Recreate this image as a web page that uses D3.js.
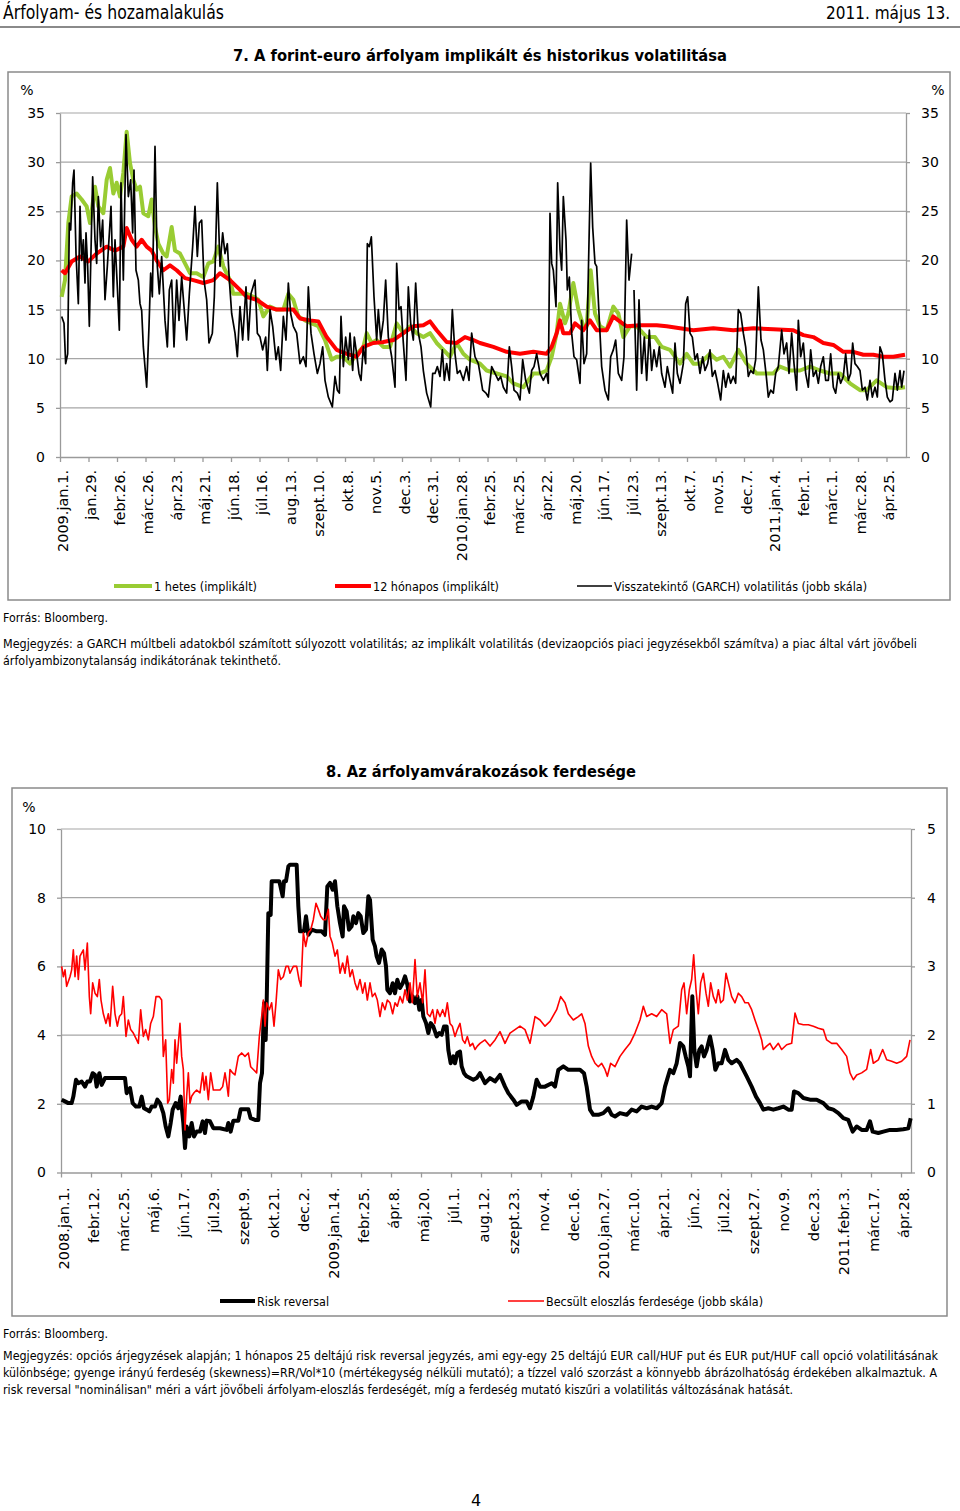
<!DOCTYPE html>
<html>
<head>
<meta charset="utf-8">
<script src="https://cdnjs.cloudflare.com/ajax/libs/d3/7.8.5/d3.min.js"></script>
<style>
  body { margin: 0; background: #fff; }
  svg text { font-family: "DejaVu Sans", sans-serif; fill: #000; }
  svg text.narrow { font-family: "DejaVu Sans Condensed", "Liberation Sans Narrow", "Roboto", sans-serif; }
</style>
</head>
<body>
<svg id="page" width="960" height="1511"></svg>
<script>

// ---- 7. abra: volatilitas ----
// t: ido-index (kb. 1/4 kereskedesi nap), v: %
var volLabels = ["2009.jan.1.","jan.29.","febr.26.","márc.26.","ápr.23.","máj.21.","jún.18.","júl.16.","aug.13.","szept.10.",
  "okt.8.","nov.5.","dec.3.","dec.31.","2010.jan.28.","febr.25.","márc.25.","ápr.22.","máj.20.","jún.17.",
  "júl.23.","szept.13.","okt.7.","nov.5.","dec.7.","2011.jan.4.","febr.1.","márc.1.","márc.28.","ápr.25."];
var volTicksY = [0,5,10,15,20,25,30,35];

var hetes = [[185,16.3],[195,18],[205,23.8],[215,26.5],[230,26.8],[245,26.2],[260,25.5],[270,23.8],[285,27.5],[295,25.5],
  [310,24.8],[320,28.2],[330,29.4],[340,26.8],[350,27.9],[360,26.5],[370,28.9],[380,33.1],[390,29.9],[400,28.2],
  [410,27.2],[420,27.5],[430,24.8],[445,24.5],[455,26.2],[465,23.4],[475,21.7],[490,20.7],[500,20.4],[515,23.4],
  [525,21],[540,20.7],[555,19.7],[570,18.7],[590,18.7],[610,18.3],[625,19.7],[640,19.9],[655,21.4],[670,19.4],
  [690,18],[700,16.6],[720,16.6],[740,16.6],[760,16.3],[775,16],[790,14.3],[810,15.3],[830,15],[850,15],
  [865,16.6],[880,16],[895,14.3],[915,13.9],[935,13.6],[955,13.3],[975,11.9],[995,9.9],[1010,10.2],[1030,10.2],
  [1050,9.5],[1070,10.5],[1090,11.2],[1100,12.6],[1115,11.6],[1130,11.9],[1150,11.2],[1170,11.2],[1190,13.6],[1210,12.6],
  [1230,13.3],[1250,12.6],[1270,12.2],[1290,12.6],[1310,11.6],[1330,10.9],[1350,10.2],[1370,11.6],[1390,10.5],[1410,9.9],
  [1440,9.5],[1460,8.8],[1490,8.5],[1520,8.2],[1540,7.5],[1570,7.1],[1600,8.5],[1620,8.5],[1640,8.8],[1655,10.2],
  [1670,12.6],[1680,15.6],[1695,13.6],[1705,14.6],[1720,17.7],[1735,15],[1750,13.3],[1760,13.3],[1772,19],[1785,14.6],
  [1800,13.3],[1820,12.9],[1840,15.3],[1855,14.6],[1870,12.2],[1890,13.3],[1910,13.3],[1940,12.2],[1965,12.2],[1985,11.2],
  [2010,10.9],[2040,9.5],[2060,10.5],[2080,9.5],[2100,9.5],[2130,10.5],[2150,9.9],[2170,10.2],[2190,9.2],[2215,10.9],
  [2240,9.5],[2270,8.5],[2300,8.5],[2320,8.5],[2340,9.2],[2370,8.8],[2400,8.8],[2430,9.2],[2460,8.8],[2490,8.5],
  [2520,8.5],[2550,7.5],[2580,6.8],[2600,6.8],[2630,7.8],[2660,7.1],[2690,7],[2715,7.1]];

var honapos12 = [[185,19],[195,18.7],[215,19.9],[240,20.4],[265,19.9],[290,20.7],[320,21.4],[345,21],[370,21.4],[380,23.3],
  [395,22.1],[410,21.4],[425,22.1],[440,21.4],[455,21],[470,20],[490,19],[510,19.5],[530,19],[555,18.2],
  [580,18],[610,17.7],[640,18],[660,18.7],[690,18],[720,17],[740,16.3],[770,16],[800,15.3],[830,15],
  [855,15],[880,15],[900,14.1],[930,13.9],[955,13.8],[980,12.2],[1010,10.9],[1040,10.5],[1070,10.2],[1090,11.2],
  [1120,11.6],[1150,11.7],[1180,11.9],[1210,12.6],[1240,13.3],[1270,13.4],[1290,13.8],[1310,12.9],[1340,11.7],[1370,11.6],
  [1395,12.2],[1420,11.9],[1440,11.6],[1480,11.2],[1520,10.7],[1560,10.5],[1600,10.7],[1640,10.5],[1655,11.2],[1670,12.6],
  [1680,13.9],[1690,12.6],[1710,12.6],[1725,13.6],[1750,12.9],[1770,13.9],[1790,12.9],[1820,12.9],[1840,14.3],[1855,13.9],
  [1880,13.3],[1920,13.4],[1970,13.4],[2000,13.3],[2040,13.1],[2080,12.9],[2140,13.1],[2200,12.9],[2260,13.1],[2320,13],
  [2380,12.9],[2410,12.4],[2440,12.2],[2470,11.6],[2500,11.4],[2530,10.7],[2560,10.7],[2590,10.4],[2620,10.4],[2650,10.2],
  [2680,10.2],[2715,10.4]];

var garch = [[185,14.3],[192,13.6],[197,9.5],[203,10.5],[208,23.8],[212,23.1],[218,27.9],[222,29.2],[228,20.7],[235,15.6],
  [240,25.5],[245,20],[250,22.1],[255,17.7],[258,22.8],[263,19.4],[268,13.3],[278,28.5],[285,22.1],[290,19.7],
  [295,26.5],[302,21.4],[308,24.1],[315,16],[322,19.4],[333,25.5],[340,16.3],[345,22.1],[352,17.3],[358,12.9],
  [363,27.9],[370,18],[378,32.8],[385,26.5],[392,28.2],[398,22.8],[402,29.2],[408,19],[415,18],[420,15.6],
  [425,14.9],[430,11.2],[440,7.1],[447,13.3],[452,18.7],[457,16.3],[465,31.6],[472,19.4],[478,16.6],[485,20.4],
  [495,13.9],[502,11.2],[508,17],[515,18],[522,11.2],[530,18],[537,13.9],[545,18.3],[552,15.3],[560,11.9],
  [568,16.6],[578,21.4],[585,25.5],[592,20.4],[598,23.8],[605,24.1],[612,18],[620,16],[627,11.6],[637,12.6],
  [643,16.3],[652,27.9],[660,19.4],[668,22.8],[675,20.7],[682,21.7],[688,18],[695,14.6],[705,12.6],[712,10.2],
  [720,15.3],[728,11.9],[738,17.3],[745,11.9],[753,16.6],[765,18],[772,12.6],[780,12.2],[788,10.9],[797,12.2],
  [802,8.8],[810,15],[818,13.3],[828,9.9],[835,11.2],[842,8.8],[850,14.3],[858,11.9],[865,17.7],[872,14.6],
  [880,13.3],[890,12.6],[900,9.5],[910,10.2],[918,9.2],[925,17.3],[933,12.6],[942,10.5],[952,8.5],[960,9.5],
  [968,11.2],[975,7.8],[985,6.1],[997,5.1],[1005,8.2],[1012,6.8],[1018,6.5],[1023,14.3],[1030,9.2],[1037,12.2],
  [1045,9.9],[1050,12.6],[1058,8.8],[1063,12.2],[1070,10.5],[1077,8.5],[1083,7.8],[1090,11.2],[1097,9.5],[1102,21.7],
  [1108,21.4],[1114,22.4],[1122,16.3],[1130,11.9],[1135,15],[1142,11.9],[1150,13.9],[1157,18],[1165,12.2],[1175,10.2],
  [1185,7.1],[1190,19.7],[1197,15],[1203,15.3],[1210,11.6],[1218,7.8],[1225,17.3],[1232,13.6],[1240,11.9],[1247,17.7],
  [1255,12.6],[1263,11.2],[1270,8.8],[1280,6.5],[1292,5.1],[1298,8.5],[1305,8.5],[1312,9.2],[1320,8.2],[1327,10.9],
  [1333,7.8],[1340,9.5],[1348,7.8],[1357,15],[1365,10.5],[1372,8.5],[1380,8.8],[1390,7.8],[1400,9.2],[1407,7.8],
  [1415,12.6],[1425,10.2],[1435,9.5],[1440,8.5],[1448,6.8],[1458,6.5],[1465,6.1],[1475,9.2],[1485,8.5],[1495,7.8],
  [1502,8.2],[1510,7.1],[1520,6.5],[1528,11.2],[1535,9.2],[1542,6.8],[1552,6.5],[1560,5.8],[1568,9.9],[1577,7.8],
  [1588,6.5],[1595,8.8],[1602,9.2],[1610,10.5],[1620,8.5],[1630,7.8],[1640,8.5],[1645,7.5],[1650,24.8],[1655,19.7],
  [1660,19],[1668,15.3],[1673,27.9],[1680,21.1],[1685,19],[1690,26.5],[1698,22.1],[1702,17],[1708,18.3],[1715,12.6],
  [1722,10.2],[1730,9.9],[1740,7.5],[1745,13.9],[1752,9.5],[1760,10.5],[1765,18.7],[1772,29.9],[1778,23.4],[1785,19.7],
  [1790,19.4],[1798,13.9],[1805,9.2],[1815,6.8],[1825,5.8],[1832,10.2],[1840,10.9],[1847,11.9],[1855,8.5],[1865,7.8],
  [1872,10.2],[1880,24.1],[1887,18],[1895,20.7],[1898,null],[1902,17],[1910,6.8],[1917,16],[1925,8.5],[1933,12.2],
  [1940,7.8],[1948,12.9],[1955,8.8],[1962,10.9],[1970,9.2],[1978,11.2],[1985,8.5],[1995,7.1],[2002,9.2],[2010,7.8],
  [2018,6.5],[2025,11.6],[2032,8.5],[2040,7.5],[2050,9.5],[2057,15.6],[2063,16.3],[2070,12.6],[2077,12.2],[2085,9.9],
  [2092,10.5],[2100,8.5],[2108,10.2],[2115,8.8],[2123,9.5],[2130,10.9],[2137,8.2],[2145,8.8],[2153,7.5],[2162,5.8],
  [2170,8.8],[2177,7.1],[2185,8.5],[2192,7.5],[2200,8.2],[2207,7.5],[2215,15],[2222,14.6],[2230,12.6],[2237,11.2],
  [2245,8.2],[2252,8.8],[2260,8.5],[2267,9.9],[2275,17.3],[2283,11.9],[2290,10.9],[2298,8.5],[2305,6.1],[2312,6.8],
  [2320,6.5],[2327,8.5],[2335,9.2],[2345,12.9],[2352,10.5],[2360,11.6],[2367,8.5],[2375,12.6],[2382,9.5],[2390,6.8],
  [2395,13.9],[2402,10.2],[2410,11.6],[2417,8.5],[2425,7.1],[2432,10.9],[2440,8.2],[2448,8.8],[2455,7.5],[2462,9.2],
  [2470,10.2],[2477,7.8],[2485,7.8],[2492,10.5],[2500,7.1],[2507,6.5],[2515,8.5],[2522,7.5],[2530,8.2],[2537,10.5],
  [2545,7.8],[2552,8.5],[2558,11.6],[2565,9.5],[2572,9.2],[2580,8.8],[2587,6.8],[2595,7.1],[2602,5.8],[2610,7.8],
  [2617,6.1],[2625,7.1],[2632,6.1],[2640,11.2],[2647,10.5],[2655,7.8],[2662,6.1],[2670,5.6],[2677,5.8],[2685,8.5],
  [2692,6.8],[2700,8.8],[2705,7.1],[2712,8.8]];

// ---- 8. abra: ferdeseg ----
var skewLabels = ["2008.jan.1.","febr.12.","márc.25.","máj.6.","jún.17.","júl.29.","szept.9.","okt.21.","dec.2.","2009.jan.14.",
  "febr.25.","ápr.8.","máj.20.","júl.1.","aug.12.","szept.23.","nov.4.","dec.16.","2010.jan.27.","márc.10.",
  "ápr.21.","jún.2.","júl.22.","szept.27.","nov.9.","dec.23.","2011.febr.3.","márc.17.","ápr.28."];
var skewTicksL = [0,2,4,6,8,10];
var skewTicksR = [0,1,2,3,4,5];

var riskReversal = [[185,2.12],[195,2.07],[205,2.02],[215,2.02],[220,2.21],[228,2.7],[235,2.6],[245,2.65],[255,2.5],[262,2.65],
  [270,2.65],[278,2.89],[285,2.84],[290,2.5],[298,2.89],[305,2.55],[315,2.75],[330,2.75],[350,2.75],[375,2.75],
  [380,2.31],[390,2.46],[398,2.02],[408,1.92],[418,1.92],[425,2.21],[432,1.87],[440,1.83],[448,1.78],[455,1.92],
  [465,1.92],[472,2.12],[480,2.02],[490,1.73],[497,1.34],[505,1.05],[512,1.44],[518,1.83],[527,2.02],[535,1.87],
  [542,2.21],[550,1.44],[555,0.71],[560,1.34],[568,1.05],[575,1.44],[582,1.05],[590,1.19],[600,1.19],[608,1.49],
  [615,1.15],[620,1.51],[630,1.49],[640,1.29],[660,1.29],[680,1.24],[685,1.44],[692,1.19],[700,1.51],[715,1.51],
  [722,1.84],[745,1.84],[752,1.58],[765,1.53],[775,1.53],[780,2.6],[786,2.89],[792,4.93],[797,3.86],[800,4.93],
  [805,7.55],[812,7.5],[815,8.48],[838,8.48],[848,8.04],[852,8.48],[858,8.48],[865,8.91],[870,8.96],[890,8.96],
  [895,7.75],[900,7.02],[912,7.02],[918,7.46],[925,6.92],[935,7.07],[950,7.02],[965,7.02],[975,6.92],[982,8.33],
  [990,8.43],[998,8.23],[1005,8.48],[1012,7.75],[1020,7.26],[1028,6.87],[1032,7.75],[1040,7.6],[1047,7.07],[1055,7.17],
  [1060,7.46],[1068,7.26],[1075,7.55],[1082,7.46],[1090,6.97],[1098,7.07],[1105,8.04],[1110,7.94],[1118,6.78],[1125,6.58],
  [1130,6.29],[1137,6.1],[1145,6.49],[1152,6.39],[1158,6],[1162,5.32],[1170,5.22],[1178,5.51],[1185,5.22],[1192,5.61],
  [1200,5.37],[1208,5.51],[1215,5.71],[1222,5.47],[1230,4.98],[1238,5.13],[1245,4.93],[1252,5.13],[1258,4.74],[1265,5.03],
  [1270,4.54],[1278,4.35],[1285,4.06],[1292,4.35],[1300,4.25],[1310,3.96],[1318,4.06],[1325,4.01],[1332,4.25],[1340,4.25],
  [1345,3.57],[1352,3.18],[1360,3.38],[1365,3.18],[1372,3.48],[1380,3.52],[1385,3.09],[1392,2.89],[1400,2.8],[1410,2.75],
  [1420,2.7],[1430,2.75],[1440,2.89],[1455,2.6],[1470,2.75],[1485,2.65],[1500,2.84],[1515,2.5],[1525,2.31],[1540,2.12],
  [1550,1.97],[1565,2.07],[1580,2.07],[1590,1.87],[1600,2.21],[1610,2.7],[1620,2.5],[1635,2.5],[1655,2.6],[1665,2.5],
  [1675,2.99],[1690,3.09],[1705,2.99],[1720,2.99],[1740,2.99],[1752,2.89],[1760,2.5],[1770,1.83],[1780,1.68],[1795,1.68],
  [1810,1.73],[1825,1.87],[1835,1.68],[1845,1.63],[1860,1.73],[1880,1.68],[1895,1.83],[1910,1.78],[1925,1.92],[1940,1.87],
  [1955,1.92],[1970,1.87],[1985,2.02],[1995,2.5],[2010,2.99],[2020,2.89],[2030,3.18],[2040,3.77],[2050,3.67],[2057,3.38],
  [2065,3.09],[2070,2.8],[2077,5.13],[2083,3.57],[2090,3.09],[2098,3.57],[2105,3.67],[2112,3.38],[2120,3.57],[2130,3.96],
  [2138,3.57],[2146,2.99],[2155,3.18],[2165,3.18],[2175,3.57],[2185,3.28],[2195,3.18],[2210,3.28],[2220,3.18],[2230,2.99],
  [2240,2.8],[2255,2.5],[2268,2.21],[2280,2.02],[2290,1.83],[2305,1.87],[2320,1.83],[2335,1.87],[2350,1.92],[2365,1.83],
  [2375,1.83],[2382,2.36],[2395,2.31],[2410,2.17],[2430,2.12],[2450,2.12],[2470,2.02],[2485,1.87],[2500,1.83],[2515,1.73],
  [2530,1.58],[2545,1.53],[2558,1.19],[2570,1.34],[2585,1.24],[2600,1.24],[2610,1.49],[2618,1.19],[2635,1.15],[2650,1.19],
  [2670,1.24],[2690,1.24],[2710,1.26],[2725,1.29],[2732,1.58]];

var ferdeseg = [[185,3],[190,2.85],[195,2.95],[200,2.71],[210,2.85],[215,2.95],[220,3.24],[225,2.85],[230,3.15],[235,2.81],
  [240,3.15],[250,3.24],[255,2.95],[262,3.34],[268,2.56],[272,2.31],[278,2.76],[285,2.61],[292,2.56],[298,2.81],
  [303,2.51],[310,2.31],[318,2.17],[325,2.31],[330,2.13],[338,2.71],[345,2.31],[352,2.13],[358,2.27],[365,2.31],
  [370,2.56],[378,1.98],[385,2.22],[392,2.08],[400,2.03],[410,1.93],[415,1.88],[422,2.37],[430,1.98],[437,2.08],
  [445,1.93],[452,2.17],[460,2.27],[468,2.56],[478,2.56],[485,2.51],[490,1.69],[497,1.93],[503,1.01],[508,1.06],
  [515,1.5],[520,1.3],[525,1.93],[530,1.59],[535,1.88],[540,2.17],[545,1.69],[550,1.5],[555,0.62],[560,1.11],
  [565,1.45],[570,1.01],[575,1.11],[582,1.16],[590,1.2],[600,1.16],[608,1.45],[613,1.2],[618,1.4],[625,1.06],
  [632,1.45],[640,1.2],[650,1.2],[660,1.2],[668,1.25],[675,1.45],[680,1.3],[685,1.11],[690,1.5],[698,1.45],
  [705,1.42],[715,1.69],[725,1.74],[735,1.69],[745,1.74],[752,1.54],[760,1.5],[770,1.45],[778,1.98],[785,2.27],
  [790,2.51],[795,2.13],[800,2.47],[808,2.37],[815,2.47],[822,2.13],[828,2.47],[835,2.95],[842,2.81],[850,2.85],
  [858,3],[865,3],[870,2.9],[880,3],[890,3],[897,2.81],[903,2.71],[910,3.49],[917,3.29],[925,3.49],
  [932,3.53],[940,3.68],[948,3.92],[955,3.83],[962,3.73],[970,3.68],[977,3.68],[985,3.83],[990,3.44],[997,3.34],
  [1005,3.15],[1012,3.24],[1020,2.9],[1028,3.05],[1035,2.9],[1042,3.15],[1050,2.85],[1057,2.95],[1065,2.76],[1072,2.66],
  [1080,2.81],[1088,2.61],[1095,2.76],[1102,2.51],[1110,2.76],[1117,2.56],[1125,2.61],[1132,2.51],[1140,2.27],[1147,2.47],
  [1155,2.37],[1162,2.51],[1170,2.47],[1178,2.31],[1185,2.47],[1192,2.42],[1200,2.56],[1208,2.47],[1215,2.66],[1222,2.51],
  [1230,2.76],[1237,2.47],[1245,3.1],[1252,2.56],[1260,2.76],[1268,2.47],[1275,2.95],[1282,2.31],[1290,2.27],[1298,2.37],
  [1305,2.17],[1312,2.37],[1320,2.27],[1328,2.37],[1335,2.27],[1342,2.47],[1350,2.17],[1357,2.13],[1365,1.98],[1372,2.08],
  [1380,2.17],[1388,1.93],[1395,1.88],[1402,1.98],[1410,1.84],[1418,1.88],[1425,1.79],[1432,1.84],[1440,1.88],[1455,1.93],
  [1470,1.84],[1485,1.93],[1500,2.05],[1515,1.88],[1530,2.03],[1545,2.08],[1560,2.13],[1575,2.08],[1590,1.88],[1605,2.27],
  [1620,2.22],[1635,2.13],[1650,2.2],[1670,2.37],[1682,2.56],[1695,2.47],[1705,2.31],[1720,2.22],[1735,2.27],[1745,2.31],
  [1755,2.17],[1765,1.84],[1775,1.69],[1785,1.59],[1795,1.54],[1805,1.59],[1815,1.5],[1822,1.4],[1832,1.59],[1845,1.54],
  [1860,1.69],[1875,1.79],[1890,1.88],[1905,2.03],[1920,2.22],[1930,2.42],[1940,2.27],[1955,2.31],[1970,2.27],[1985,2.37],
  [2000,2.31],[2010,1.88],[2020,2.08],[2035,2.13],[2045,2.66],[2052,2.76],[2060,2.31],[2068,2.66],[2075,2.81],[2081,3.17],
  [2088,2.66],[2095,2.31],[2102,2.76],[2110,2.9],[2118,2.61],[2125,2.42],[2132,2.76],[2140,2.56],[2148,2.47],[2155,2.66],
  [2162,2.47],[2170,2.51],[2178,2.9],[2185,2.76],[2195,2.56],[2205,2.47],[2215,2.61],[2225,2.56],[2235,2.47],[2245,2.47],
  [2255,2.37],[2265,2.22],[2275,2.08],[2285,1.93],[2290,1.79],[2300,1.84],[2310,1.88],[2320,1.79],[2335,1.88],[2345,1.79],
  [2360,1.86],[2375,1.88],[2385,2.32],[2395,2.17],[2410,2.15],[2425,2.15],[2440,2.13],[2455,2.1],[2470,2.08],[2480,1.93],
  [2495,1.88],[2510,1.88],[2525,1.79],[2540,1.69],[2550,1.45],[2560,1.35],[2570,1.42],[2585,1.45],[2600,1.5],[2612,1.79],
  [2620,1.59],[2635,1.64],[2648,1.79],[2660,1.64],[2675,1.62],[2690,1.59],[2705,1.62],[2720,1.69],[2730,1.93]];


var svg = d3.select("#page");

function addText(x, y, str, size, len, cls, weight){
  var t = svg.append("text")
    .attr("x", x).attr("y", y)
    .attr("font-size", size)
    .text(str);
  if (cls) t.attr("class", cls);
  if (weight) t.attr("font-weight", weight);
  if (len) t.attr("textLength", len).attr("lengthAdjust", "spacingAndGlyphs");
  return t;
}

function Chart(cfg){

  var self = this;
  this.cfg = cfg;
  this.g;
  this.x;
  this.yL;
  this.yR;

  this.init = function init(){
    var c = self.cfg;
    self.g = svg.append("g");

    self.g.append("rect")
      .attr("x", c.box[0]).attr("y", c.box[1])
      .attr("width", c.box[2] - c.box[0]).attr("height", c.box[3] - c.box[1])
      .attr("fill", "none").attr("stroke", "#8a8a8a").attr("stroke-width", 1.5);

    self.x = d3.scaleLinear().domain(c.tDomain).range([c.left, c.right]);
    self.yL = d3.scaleLinear().domain([0, d3.max(c.ticksL)]).range([c.bottom, c.top]);
    self.yR = d3.scaleLinear().domain([0, d3.max(c.ticksR)]).range([c.bottom, c.top]);

    // racsvonalak
    self.g.append("g").selectAll("line")
      .data(c.ticksL.filter(function(d){ return d > 0; }))
      .enter().append("line")
      .attr("x1", c.left).attr("x2", c.right)
      .attr("y1", function(d){ return self.yL(d); })
      .attr("y2", function(d){ return self.yL(d); })
      .attr("stroke", "#a6a6a6").attr("stroke-width", 1.2);

    var ax = self.g.append("g")
      .attr("transform", "translate(" + c.left + ",0)")
      .call(d3.axisLeft(self.yL).tickValues(c.ticksL).tickSize(4).tickSizeOuter(0).tickPadding(11)
        .tickFormat(d3.format("d")));
    var axR = self.g.append("g")
      .attr("transform", "translate(" + c.right + ",0)")
      .call(d3.axisRight(self.yR).tickValues(c.ticksR).tickSize(4).tickSizeOuter(0).tickPadding(c.padR)
        .tickFormat(d3.format("d")));

    var tickTs = c.labels.map(function(d, i){ return c.tDomain[0] + c.tStep * i; });
    var axB = self.g.append("g")
      .attr("transform", "translate(0," + c.bottom + ")")
      .call(d3.axisBottom(self.x).tickValues(tickTs).tickSize(5).tickSizeOuter(0)
        .tickFormat(function(d, i){ return c.labels[i]; }));
    axB.selectAll("text")
      .attr("transform", "rotate(-90)")
      .attr("text-anchor", "end")
      .attr("x", -c.labelGap).attr("y", 2).attr("dy", "0.35em")
      .attr("font-size", 14.5);

    [ax, axR, axB].forEach(function(a){
      a.attr("font-family", null).attr("font-size", null);
      a.selectAll("path, line").attr("stroke", "#9a9a9a").attr("stroke-width", 1.3);
      a.selectAll("text").attr("fill", "#000");
    });
    ax.selectAll("text").attr("font-size", 14);
    axR.selectAll("text").attr("font-size", 14);
  };

  this.addLine = function addLine(data, right, color, width){
    var y = right ? self.yR : self.yL;
    var line = d3.line()
      .defined(function(d){ return d[1] != null; })
      .x(function(d){ return self.x(d[0]); })
      .y(function(d){ return y(d[1]); });
    self.g.append("path")
      .datum(data)
      .attr("d", line)
      .attr("fill", "none")
      .attr("stroke", color)
      .attr("stroke-width", width)
      .attr("stroke-linejoin", "round");
  };

  this.legend = function legend(items, y){
    items.forEach(function(it){
      self.g.append("line")
        .attr("x1", it.x1).attr("x2", it.x2).attr("y1", y).attr("y2", y)
        .attr("stroke", it.color).attr("stroke-width", it.w);
      self.g.append("text")
        .attr("class", "narrow")
        .attr("x", it.x2 + 2).attr("y", y + 4.5)
        .attr("font-size", 13)
        .attr("textLength", it.len).attr("lengthAdjust", "spacingAndGlyphs")
        .text(it.text);
    });
  };
}

// fejlec
addText(3, 19, "Árfolyam- és hozamalakulás", 19.5, 221, "narrow");
addText(950, 19, "2011. május 13.", 17, null, "narrow").attr("text-anchor", "end");
svg.append("line").attr("x1", 0).attr("x2", 960).attr("y1", 27).attr("y2", 27)
  .attr("stroke", "#8a8a8a").attr("stroke-width", 2);

// 7. abra
addText(233, 61, "7. A forint-euro árfolyam implikált és historikus volatilitása", 16, 494, null, "bold");

var vol = new Chart({
  box: [8, 72, 950, 600],
  left: 60, right: 906, top: 113, bottom: 457,
  tDomain: [180, 2718], tStep: 85.5,
  ticksL: volTicksY, ticksR: volTicksY, padR: 11,
  labels: volLabels, labelGap: 13
});
vol.init();
vol.addLine(hetes, false, "#99cc33", 4);
vol.addLine(honapos12, false, "#ff0000", 4);
vol.addLine(garch, true, "#000", 1.7);
addText(27, 95, "%", 14).attr("text-anchor", "middle");
addText(938, 95, "%", 14).attr("text-anchor", "middle");
vol.legend([
  {x1: 114, x2: 152, color: "#99cc33", w: 4, text: "1 hetes (implikált)", len: 103},
  {x1: 335, x2: 371, color: "#ff0000", w: 4, text: "12 hónapos (implikált)", len: 126},
  {x1: 577, x2: 612, color: "#000", w: 1.6, text: "Visszatekintő (GARCH) volatilitás (jobb skála)", len: 253}
], 586);

addText(3, 621.5, "Forrás: Bloomberg.", 13, 105, "narrow");
addText(3, 647.5, "Megjegyzés: a GARCH múltbeli adatokból számított súlyozott volatilitás; az implikált volatilitás (devizaopciós piaci jegyzésekből számítva) a piac által várt jövőbeli", 13, 914, "narrow");
addText(3, 664.5, "árfolyambizonytalanság indikátorának tekinthető.", 13, 278, "narrow");

// 8. abra
addText(326, 777, "8. Az árfolyamvárakozások ferdesége", 16, 310, null, "bold");

var skew = new Chart({
  box: [12, 788, 947, 1316],
  left: 61, right: 911, top: 829, bottom: 1172.5,
  tDomain: [183, 2733], tStep: 90,
  ticksL: skewTicksL, ticksR: skewTicksR, padR: 12,
  labels: skewLabels, labelGap: 15
});
skew.init();
skew.addLine(riskReversal, false, "#000", 4);
skew.addLine(ferdeseg, true, "#ff0000", 1.6);
addText(29, 812, "%", 14).attr("text-anchor", "middle");
skew.legend([
  {x1: 220, x2: 255, color: "#000", w: 4, text: "Risk reversal", len: 72},
  {x1: 508, x2: 544, color: "#ff0000", w: 1.6, text: "Becsült eloszlás ferdesége (jobb skála)", len: 217}
], 1301);

addText(3, 1337.5, "Forrás: Bloomberg.", 13, 105, "narrow");
addText(3, 1359.5, "Megjegyzés: opciós árjegyzések alapján; 1 hónapos 25 deltájú risk reversal jegyzés, ami egy-egy 25 deltájú EUR call/HUF put és EUR put/HUF call opció volatilitásának", 12, 935, "narrow");
addText(3, 1376.5, "különbsége; gyenge irányú ferdeség (skewness)=RR/Vol*10 (mértékegység nélküli mutató); a tízzel való szorzást a könnyebb ábrázolhatóság érdekében alkalmaztuk.  A", 12, 934, "narrow");
addText(3, 1393.5, "risk reversal \"nominálisan\" méri a várt jövőbeli árfolyam-eloszlás ferdeségét, míg a ferdeség mutató kiszűri a volatilitás változásának hatását.", 12.5, 790, "narrow");

addText(476, 1506, "4", 16).attr("text-anchor", "middle");
</script>
</body>
</html>
